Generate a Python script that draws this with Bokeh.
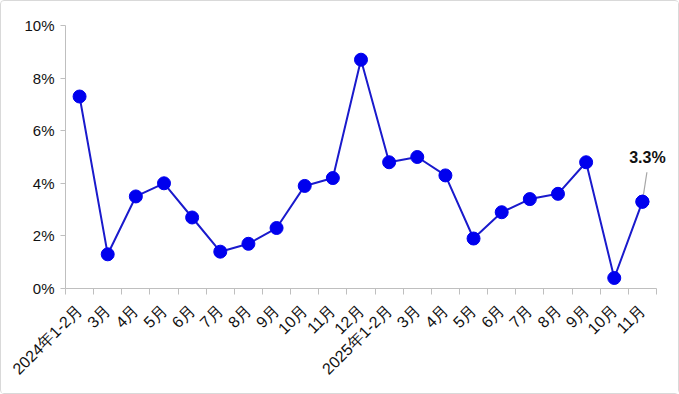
import math
from bokeh.plotting import figure
from bokeh.models import Range1d, FixedTicker, ColumnDataSource, Label
from bokeh.embed import file_html
from bokeh.resources import INLINE

categories = ["2024年1-2月", "3月", "4月", "5月", "6月", "7月", "8月", "9月", "10月", "11月", "12月",
              "2025年1-2月", "3月", "4月", "5月", "6月", "7月", "8月", "9月", "10月", "11月"]
values = [7.3, 1.3, 3.5, 4.0, 2.7, 1.4, 1.7, 2.3, 3.9, 4.2, 8.7,
          4.8, 5.0, 4.3, 1.9, 2.9, 3.4, 3.6, 4.8, 0.4, 3.3]
y_ticks = [0, 2, 4, 6, 8, 10]
y_tick_labels = ["0%", "2%", "4%", "6%", "8%", "10%"]
last_label = "3.3%"

n = len(categories)
xs = [i + 0.5 for i in range(n)]
src = ColumnDataSource(dict(x=xs, y=values))

# frame extends 16px past the axis end (axis is bounded to the categories)
axis_px = 590.0
extra_px = 16.0
p = figure(width=679, height=394, output_backend="svg", toolbar_location=None,
           x_range=Range1d(0, n * (axis_px + extra_px) / axis_px), y_range=Range1d(0, 10),
           min_border_left=64, min_border_right=8, min_border_top=24, min_border_bottom=107)
p.outline_line_color = None
p.grid.visible = False
p.background_fill_color = "white"
p.border_fill_color = "white"
p.styles = {"border": "1px solid #d9d9d9", "border-radius": "4px", "box-sizing": "border-box"}

FONT = "Liberation Sans"
axc = "#bfbfbf"

xa = p.xaxis[0]
xa.bounds = (0, n)
xa.ticker = FixedTicker(ticks=xs, minor_ticks=list(range(n + 1)))
xa.major_label_overrides = {x: c for x, c in zip(xs, categories)}
xa.major_tick_line_color = None
xa.major_tick_out = 0
xa.major_tick_in = 0
xa.minor_tick_in = 0
xa.minor_tick_out = 6
xa.minor_tick_line_color = axc
xa.axis_line_color = axc
xa.major_label_orientation = math.pi / 4
xa.major_label_standoff = 13
xa.major_label_text_font = FONT
xa.major_label_text_font_size = "16px"
xa.major_label_text_color = "#111111"

ya = p.yaxis[0]
ya.ticker = FixedTicker(ticks=y_ticks)
ya.major_label_overrides = {t: l for t, l in zip(y_ticks, y_tick_labels)}
ya.major_tick_in = 0
ya.major_tick_out = 5
ya.major_tick_line_color = axc
ya.minor_tick_line_color = None
ya.axis_line_color = axc
ya.major_label_standoff = 6
ya.major_label_text_font = FONT
ya.major_label_text_font_size = "15px"
ya.major_label_text_color = "#111111"

p.line("x", "y", source=src, line_color="#1a1acc", line_width=2)
p.scatter("x", "y", source=src, size=13, fill_color="#0000ee", line_color="#0000ee")

# annotation for the last point
lx, ly = xs[-1], values[-1]
p.segment(x0=[lx], y0=[ly], x1=[lx + 0.16], y1=[ly + 1.12], line_color="#a6a6a6", line_width=1.2, level="underlay")
p.scatter([lx], [ly], size=13, fill_color="#0000ee", line_color="#0000ee")
p.add_layout(Label(x=lx, y=ly, text=last_label, x_offset=5, y_offset=36,
                   text_align="center", text_baseline="bottom",
                   text_font=FONT, text_font_size="16px", text_font_style="bold",
                   text_color="#111111"))

open("out.html", "w").write(file_html(p, INLINE))
